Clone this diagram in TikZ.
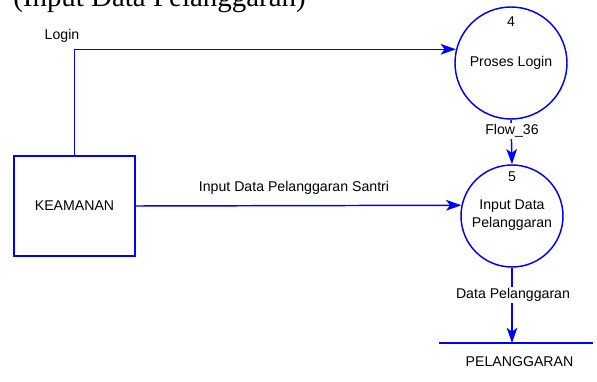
\documentclass[tikz,border=0pt]{standalone}
\usepackage{fontspec}
\setmainfont{Liberation Sans}
\newfontfamily\titlefont{Liberation Serif}
\usetikzlibrary{arrows.meta}

\tikzset{
  flowline/.style={draw={rgb,255:red,0;green,0;blue,255}, line width=1.1pt},
  flowarrow/.style={flowline, -{Stealth[length=11.5pt,width=8pt,inset=3pt]}},
  procnode/.style={circle, flowline, inner sep=0pt},
  lbl/.style={inner sep=0.75pt, font=\fontsize{10.6}{12.5}\selectfont},
  flowlbl/.style={lbl, fill=white}
}

\begin{document}
\begin{tikzpicture}[x=0.75pt,y=0.75pt,yscale=-1,xscale=1]
\useasboundingbox (0,0) rectangle (597,382);

% Title (cut at the top of the page)
\node (title) [anchor=base west, inner sep=0pt, font=\titlefont\fontsize{21.7}{24}\selectfont] at (13,6.5) {(Input Data Pelanggaran)};

%Shape: Rectangle [id:keamanan]
\node (keamanan) [draw={rgb,255:red,0;green,0;blue,255}, line width=1.1pt, minimum width=90.75pt, minimum height=75pt, inner sep=0pt, lbl] at (74.5,206) {KEAMANAN};

%Shape: Circle [id:proses4]
\node (proc4) [procnode, minimum size=84pt] at (511,63) {};
%Shape: Circle [id:proses5]
\node (proc5) [procnode, minimum size=76.5pt] at (512,216) {};

%Shape: Data store
\coordinate (storeL) at (439,343);
\coordinate (storeR) at (593,343);
\draw [flowline] (storeL) -- (storeR);

%Straight Lines [id:login]
\draw [flowarrow] (keamanan.north) |- (proc4.166.6);
%Straight Lines [id:flow36]
\draw [flowarrow] (proc4.south) -- (proc5.north);
%Straight Lines [id:input]
\draw [flowarrow] (keamanan.east) -- (proc5.168.7);
%Straight Lines [id:datapel]
\draw [flowarrow] (proc5.south) -- (proc5.south |- storeL);

% Text Node
\node (num4) [lbl] at (511,22) {4};
% Text Node
\node (txt4) [lbl] at (511,63) {Proses Login};
% Text Node
\node (num5) [lbl] at (512,177) {5};
% Text Node
\node (txt5) [lbl, align=center] at (512,215.5) {Input Data\\[1pt]Pelanggaran};
% Text Node
\node (loginlbl) [flowlbl] at (62,36) {Login};
% Text Node
\node (flowlbl) [flowlbl] at (512,131) {Flow\_36};
% Text Node
\node (inputlbl) [flowlbl] at (294,188) {Input Data Pelanggaran Santri};
% Text Node
\node (datalbl) [flowlbl] at (513,295) {Data Pelanggaran};
% Text Node
\node (storelbl) [lbl] at (519.5,362) {PELANGGARAN};

\end{tikzpicture}
\end{document}
